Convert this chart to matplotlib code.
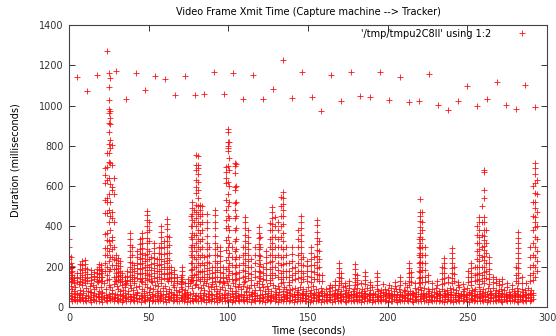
import numpy as np
import matplotlib
matplotlib.use("Agg")
import matplotlib.pyplot as plt
from matplotlib.lines import Line2D

plt.rcParams['font.family'] = ['DejaVu Sans']

# slow frames, roughly one every 6 seconds
high_t = [5, 11.6, 17.6, 23.8, 29.5, 35.8, 42, 48, 54, 60,
          66.5, 72.8, 79, 85, 91, 97, 103, 109, 115.5, 122,
          128, 134, 140, 146, 152.5, 158, 164.5, 170.5, 176.8, 182.7,
          189, 195, 201, 207.6, 213.6, 219.8, 225.8, 231.8, 238, 244,
          250, 256.3, 262, 268.5, 274.5, 280.6, 286.4, 292.7]
high_ms = [1142, 1073, 1152, 1271, 1172, 1033, 1162, 1077, 1147, 1132,
           1053, 1147, 1053, 1058, 1167, 1058, 1162, 1033, 1152, 1033,
           1082, 1226, 1038, 1167, 1043, 973, 1152, 1023, 1167, 1048,
           1043, 1167, 1028, 1142, 1018, 1023, 1157, 1003, 978, 1023,
           1097, 998, 1033, 1117, 1003, 983, 1102, 993]

# baseline band, one sample per second (t = 0..291)
base_lo = [45, 38, 30, 42, 35, 28, 40, 33, 46, 30, 37, 29, 44, 34, 27, 41, 36, 31, 48, 32,
           39, 27, 43, 35, 30, 47, 33, 38, 28, 44, 36, 30, 41, 27, 35, 45, 32, 38, 29, 42,
           34, 28, 46, 31, 39, 27, 43, 35, 30, 40, 33, 45, 28, 37, 31, 42, 29, 36, 44, 30,
           38, 27, 41, 33, 46, 29, 35, 40, 31, 28, 43, 34, 30, 39, 27, 45, 32, 37, 29, 41,
           35, 30, 44, 28, 38, 33, 26, 42, 36, 29, 40, 31, 45, 27, 34, 39, 30, 43, 28, 36,
           32, 41, 27, 37, 30, 44, 33, 28, 39, 35, 29, 42, 31, 38, 26, 40, 34, 30, 45, 28,
           37, 31, 43, 27, 35, 40, 29, 33, 46, 30, 38, 27, 42, 34, 29, 39, 31, 44, 28, 36,
           33, 27, 41, 30, 38, 29, 35, 43, 28, 32, 40, 27, 36, 31, 44, 29, 34, 38, 27, 41,
           30, 35, 28, 42, 33, 27, 39, 31, 45, 29, 36, 28, 40, 32, 27, 37, 43, 30, 34, 28,
           41, 29, 35, 27, 38, 32, 44, 28, 33, 39, 27, 36, 30, 42, 29, 34, 28, 40, 31, 37,
           27, 43, 32, 29, 38, 34, 27, 41, 30, 36, 28, 45, 33, 29, 39, 31, 27, 42, 35, 30,
           38, 28, 44, 31, 36, 27, 40, 33, 29, 37, 30, 43, 28, 35, 32, 27, 41, 30, 38, 29,
           34, 27, 42, 31, 36, 29, 45, 28, 33, 39, 30, 27, 41, 35, 29, 37, 32, 44, 28, 36,
           30, 40, 27, 34, 31, 43, 29, 37, 28, 35, 41, 30, 27, 38, 33, 29, 44, 31, 36, 28,
           39, 30, 27, 42, 33, 29, 37, 31, 45, 28, 35, 40]
base_mid = [60, 72, 55, 50, 64, 48, 58, 66, 52, 70, 46, 62, 56, 74, 50, 60, 68, 54, 63, 49,
            57, 69, 52, 61, 48, 66, 55, 71, 50, 63, 58, 47, 67, 53, 60, 72, 49, 64, 56, 51,
            65, 52, 59, 70, 47, 62, 55, 68, 51, 58, 73, 49, 64, 56, 61, 48, 69, 53, 60, 66,
            50, 63, 57, 71, 48, 60, 66, 52, 58, 74, 49, 61, 55, 67, 51, 59, 64, 47, 70, 56,
            62, 53, 68, 49, 60, 72, 55, 64, 50, 67, 58, 46, 63, 57, 70, 51, 61, 66, 48, 59,
            68, 52, 63, 57, 71, 49, 60, 54, 66, 50, 62, 73, 48, 58, 65, 53, 69, 56, 61, 47,
            59, 66, 50, 63, 55, 70, 48, 61, 57, 67, 52, 60, 73, 49, 64, 56, 62, 51, 68, 58,
            53, 63, 49, 60, 67, 51, 58, 64, 47, 62, 55, 70, 50, 59, 66, 48, 61, 54, 69, 57,
            62, 50, 58, 65, 48, 61, 55, 70, 52, 59, 64, 49, 57, 67, 51, 60, 54, 63, 48, 66,
            55, 62, 50, 68, 57, 49, 64, 53, 60, 67, 48, 58, 63, 51, 56, 69, 50, 61, 55, 65,
            58, 48, 63, 54, 66, 51, 60, 49, 67, 55, 62, 50, 58, 64, 47, 61, 69, 52, 57, 63,
            54, 65, 50, 60, 56, 68, 49, 62, 57, 51, 64, 55, 59, 66, 48, 61, 53, 67, 50, 58,
            63, 52, 59, 68, 49, 56, 61, 53, 66, 50, 58, 64, 47, 62, 55, 60, 51, 67, 57, 49,
            61, 54, 66, 50, 58, 63, 48, 60, 55, 69, 51, 57, 64, 49, 62, 56, 50, 65, 53, 59,
            52, 63, 57, 48, 61, 55, 66, 50, 58, 64, 49, 60]
base_hi = [130, 105, 90, 80, 98, 72, 115, 85, 108, 78, 120, 95, 82, 105, 76, 110, 88, 100, 125, 80,
           102, 75, 120, 90, 135, 110, 100, 85, 115, 128, 105, 92, 78, 112, 86, 100, 122, 80, 108, 95,
           84, 118, 98, 75, 106, 130, 90, 80, 114, 102, 76, 96, 125, 88, 110, 82, 104, 78, 120, 94,
           107, 80, 128, 92, 74, 112, 98, 86, 120, 78, 102, 90, 68, 84, 76, 105, 122, 94, 132, 108,
           116, 100, 128, 94, 110, 86, 122, 105, 80, 98, 114, 88, 106, 78, 125, 92, 102, 118, 84, 130,
           110, 96, 82, 120, 104, 78, 98, 116, 88, 106, 124, 80, 100, 94, 112, 76, 108, 86, 122, 98,
           84, 114, 102, 78, 106, 90, 120, 82, 110, 96, 76, 104, 88, 118, 80, 100, 92, 74, 108, 86,
           88, 66, 96, 74, 84, 102, 70, 92, 62, 80, 98, 72, 86, 104, 68, 90, 76, 60, 94, 82,
           70, 88, 64, 96, 78, 100, 66, 84, 72, 92, 60, 80, 98, 68, 86, 74, 94, 62, 82, 90,
           68, 96, 76, 60, 88, 80, 70, 94, 64, 84, 98, 72, 66, 90, 78, 62, 86, 74, 92, 68,
           84, 70, 96, 62, 80, 88, 66, 92, 74, 60, 86, 78, 98, 68, 82, 72, 64, 94, 76, 88,
           100, 84, 72, 96, 66, 90, 80, 62, 88, 74, 94, 68, 82, 60, 92, 78, 70, 86, 64, 96,
           76, 90, 62, 84, 72, 98, 66, 80, 88, 60, 94, 74, 68, 86, 78, 92, 64, 100, 82, 70,
           90, 76, 64, 94, 82, 68, 96, 72, 86, 62, 80, 92, 70, 84, 66, 98, 74, 60, 88, 78,
           68, 94, 80, 62, 90, 74, 84, 66, 96, 72, 86, 70]

# bursts of slow frames: time of the column and the durations read in it
spike_t = [0, 1, 2, 3, 5, 7, 8.5, 10, 11.5, 14, 15.5, 17.5, 19, 20, 21,
           22.8, 24, 25, 25.6, 27, 28, 29.5, 30.5, 32, 33, 35, 36.5, 38.5, 39.5, 41,
           43, 44.5, 46, 47.5, 49, 50, 51.5, 53.5, 55, 56.5, 58, 59.5, 61.5, 62.5, 64,
           66, 68, 70, 71, 73, 75, 76.5, 77.5, 78.5, 80, 81, 82, 83.5, 85, 86.6,
           88, 89.5, 91.6, 93, 94.8, 96.5, 98.5, 99.6, 100.5, 102, 104, 105, 107, 109, 110.5,
           112.6, 114.5, 116.5, 119, 120, 122, 123.5, 126, 127.5, 129.3, 131, 133, 134.5, 136, 138,
           140, 142, 144, 145.3, 147, 149.5, 152, 153.5, 155.6, 157, 159, 164, 167, 169.5, 170.5,
           173, 176, 179.5, 180.5, 183, 186, 189, 193, 197, 201, 204.5, 208, 211, 213.6, 214.6,
           217, 219.8, 220.5, 221.5, 223.5, 225, 228, 231, 234, 235.5, 238, 240.4, 241.5, 244, 247,
           250.5, 252.4, 254.5, 256, 257.4, 259, 260.5, 261.5, 263.6, 266, 268, 270, 272, 275, 278,
           280.5, 282, 284, 287, 289.5, 291, 292.5, 293.5]
spike_ms = [
    [340, 300, 255, 240, 215, 190, 170, 150, 130], [250, 220, 195, 175, 160, 140, 125],
    [205, 180, 160, 145, 130], [150, 135, 120], [170, 145, 125], [215, 190, 170, 150, 130],
    [230, 210, 185, 160, 140, 125], [235, 215, 195, 175, 150, 135], [190, 165, 145, 130],
    [185, 165, 150, 135, 120], [175, 155, 140], [190, 170, 150, 130],
    [215, 200, 185, 165, 150, 135], [210, 190, 170, 150, 130], [180, 150, 130],
    [690, 655, 615, 530, 467, 362, 293, 258, 220, 180],
    [765, 695, 630, 541, 521, 467, 367, 333, 293, 258, 200, 160],
    [1162, 1092, 1028, 983, 963, 913, 869, 809, 765, 720, 640, 560, 480, 420, 330, 280, 230, 180, 140],
    [1137, 973, 938, 909, 829, 789, 715, 610, 520, 450, 380, 310, 250, 190],
    [804, 705, 596, 581, 472, 442, 348, 333, 290, 250, 210],
    [640, 560, 420, 300, 240, 190, 150],
    [260, 235, 210, 190, 170, 150, 130], [245, 220, 195, 175, 155, 135],
    [230, 205, 180, 160, 140, 125], [170, 150, 130], [150, 130, 115], [180, 155, 135],
    [370, 340, 310, 280, 250, 225, 200, 175, 150, 130], [300, 260, 220, 190, 160, 140],
    [210, 180, 150, 130],
    [280, 250, 220, 195, 170, 145], [340, 315, 290, 265, 240, 215, 190, 165, 140],
    [370, 345, 320, 295, 270, 245, 220, 195, 170, 145, 125], [260, 230, 200, 170, 145],
    [475, 455, 430, 400, 375, 345, 320, 290, 265, 240, 210, 185, 160, 135],
    [420, 380, 330, 280, 240, 200, 165, 140], [250, 215, 185, 155, 130],
    [320, 295, 270, 245, 220, 195, 170, 145], [240, 210, 180, 150, 130],
    [300, 270, 240, 210, 180, 150], [400, 375, 350, 320, 295, 265, 240, 215, 190, 165, 140],
    [330, 300, 265, 230, 200, 170, 145],
    [435, 410, 385, 355, 330, 300, 270, 245, 220, 190, 165, 140],
    [350, 310, 270, 235, 200, 170, 145], [200, 175, 150, 130],
    [185, 165, 145, 130], [150, 130], [150, 130, 115], [200, 180, 160, 140, 125], [120],
    [140, 120], [450, 400, 350, 300, 260, 220, 185, 150, 130],
    [520, 490, 460, 430, 400, 370, 340, 310, 280, 250, 220, 190, 160, 135],
    [480, 420, 360, 300, 250, 200, 160],
    [755, 705, 680, 630, 595, 565, 505, 470, 440, 400, 360, 320, 280, 240, 200, 165, 135],
    [750, 705, 690, 660, 620, 580, 540, 500, 460, 420, 380, 340, 300, 260, 220, 180, 150],
    [505, 480, 450, 410, 370, 330, 290, 250, 210, 175, 140],
    [500, 460, 420, 380, 340, 300, 260, 220, 180, 150], [250, 210, 180, 150, 130],
    [460, 422, 390, 355, 320, 290, 255, 225, 195, 165, 140],
    [300, 260, 220, 185, 150], [200, 170, 145, 125],
    [482, 455, 420, 390, 355, 320, 290, 260, 230, 200, 175, 150, 130],
    [300, 260, 220, 185, 150], [300, 280, 255, 230, 200, 175, 150, 130], [200, 170, 145, 125],
    [695, 670, 640, 615, 530, 482, 432, 392, 333, 283, 233, 190, 150],
    [884, 869, 819, 799, 789, 775, 700, 620, 560, 500, 450, 400, 350, 300, 250, 200, 160],
    [820, 740, 680, 600, 520, 440, 380, 320, 270, 220, 180, 140], [300, 250, 210, 170, 140],
    [715, 700, 665, 596, 581, 516, 480, 440, 380, 330, 280, 240, 200, 165, 135],
    [710, 600, 520, 450, 390, 340, 290, 250, 210, 170, 140], [250, 210, 175, 145],
    [300, 260, 220, 185, 150], [447, 420, 390, 360, 330, 300, 270, 240, 210, 180, 155, 130],
    [380, 350, 320, 290, 260, 230, 200, 170, 145], [240, 200, 165, 135],
    [300, 260, 220, 180, 150], [397, 370, 345, 315, 290, 260, 235, 205, 180, 155, 130],
    [350, 300, 255, 215, 175, 145], [200, 170, 140], [280, 250, 220, 190, 160, 135],
    [417, 380, 340, 300, 260, 225, 190, 160, 135],
    [497, 470, 440, 410, 380, 350, 320, 290, 260, 230, 200, 170, 145],
    [447, 400, 350, 300, 250, 200, 160], [420, 380, 340, 300, 260, 220, 185, 150],
    [546, 500, 450, 400, 350, 300, 250, 210, 170, 140],
    [570, 540, 510, 480, 450, 410, 370, 330, 290, 250, 215, 180, 150, 125],
    [300, 260, 220, 180, 150], [220, 180, 150, 125],
    [300, 265, 230, 195, 160, 135], [200, 170, 140], [380, 340, 300, 260, 220, 180, 145],
    [450, 420, 390, 360, 330, 300, 270, 240, 210, 180, 150, 125], [250, 210, 170, 140],
    [230, 205, 180, 155, 130], [300, 270, 240, 210, 180, 150, 125], [250, 210, 175, 140],
    [432, 405, 375, 345, 315, 285, 255, 225, 195, 165, 140], [330, 280, 240, 200, 160, 130],
    [160, 130], [110], [130, 110], [218, 195, 170, 150, 130, 110], [170, 145, 120],
    [120, 105], [130, 110], [213, 190, 165, 145, 125, 110], [160, 135, 115], [120],
    [174, 155, 135, 115], [125, 108], [170, 150, 130, 110], [115], [110], [125, 105],
    [150, 130, 112], [120], [218, 195, 170, 150, 130, 112], [175, 150, 125],
    [120], [340, 300, 260, 220, 180, 145, 120],
    [536, 472, 450, 425, 397, 370, 350, 318, 295, 270, 250, 225, 200, 175, 150, 125],
    [470, 420, 380, 340, 300, 260, 220, 185, 150, 125], [300, 260, 218, 185, 150, 125],
    [160, 130], [120], [130, 110], [200, 170, 140, 115], [243, 220, 195, 170, 145, 120],
    [150, 125], [293, 270, 245, 220, 195, 170, 145, 120], [200, 165, 130], [125, 108], [115],
    [180, 150, 125], [218, 195, 170, 150, 130, 112], [200, 160, 130],
    [400, 360, 320, 280, 240, 200, 165, 135],
    [447, 420, 382, 350, 320, 290, 260, 230, 200, 170, 140, 115],
    [500, 420, 360, 300, 250, 200, 160, 130],
    [680, 670, 581, 541, 447, 420, 382, 355, 333, 305, 283, 255, 233, 200, 174, 145, 120],
    [380, 320, 270, 220, 180, 145], [250, 218, 190, 165, 140, 115], [150, 125], [140, 120],
    [130, 110], [140, 115], [120], [110],
    [200, 160, 130], [372, 345, 320, 295, 270, 245, 220, 195, 170, 145, 120], [150, 120],
    [120], [300, 250, 200, 160, 130], [600, 520, 450, 380, 320, 260, 210, 170, 135],
    [715, 690, 660, 615, 566, 521, 490, 447, 420, 397, 348, 298, 248, 199, 149],
    [630, 560, 470, 400, 340, 280, 230, 180]]

# gather every sample
base_t = np.arange(len(base_lo))
xs = [np.asarray(high_t, float)]
ys = [np.asarray(high_ms, float)]
for band in (base_lo, base_mid, base_hi):
    xs.append(base_t.astype(float))
    ys.append(np.asarray(band, float))
for t, vals in zip(spike_t, spike_ms):
    xs.append(np.full(len(vals), float(t)))
    ys.append(np.asarray(vals, float))
x = np.concatenate(xs)
y = np.concatenate(ys)

fig = plt.figure(figsize=(5.56, 3.36), dpi=100)
ax = fig.add_axes([0.124, 0.086, 0.86, 0.84])
ax.scatter(x, y, marker='+', color='#ff1010', s=20, linewidths=0.6)

ax.set_xlim(0, 300)
ax.set_ylim(0, 1400)
ax.set_xticks(range(0, 301, 50))
ax.set_yticks(range(0, 1401, 200))
ax.tick_params(direction='in', top=True, right=True, length=4, width=0.7,
               labelsize=7, pad=4, colors='#333333')
for s in ax.spines.values():
    s.set_linewidth(0.8)
    s.set_color('#444444')

ax.set_title("Video Frame Xmit Time (Capture machine --> Tracker)", fontsize=7, pad=7)
ax.set_xlabel("Time (seconds)", fontsize=7, labelpad=2)
ax.set_ylabel("Duration (milliseconds)", fontsize=7)
ax.yaxis.set_label_coords(-0.102, 0.52)

handle = Line2D([], [], ls='none', marker='+', color='#ff1010', ms=4.4, mew=0.6)
ax.legend([handle], ["'/tmp/tmpu2C8II' using 1:2"], loc='upper right',
          bbox_to_anchor=(0.977, 1.0), borderaxespad=0,
          frameon=False, markerfirst=False, fontsize=7, handlelength=2,
          handletextpad=2.2)

fig.savefig("out.png", dpi=100)
